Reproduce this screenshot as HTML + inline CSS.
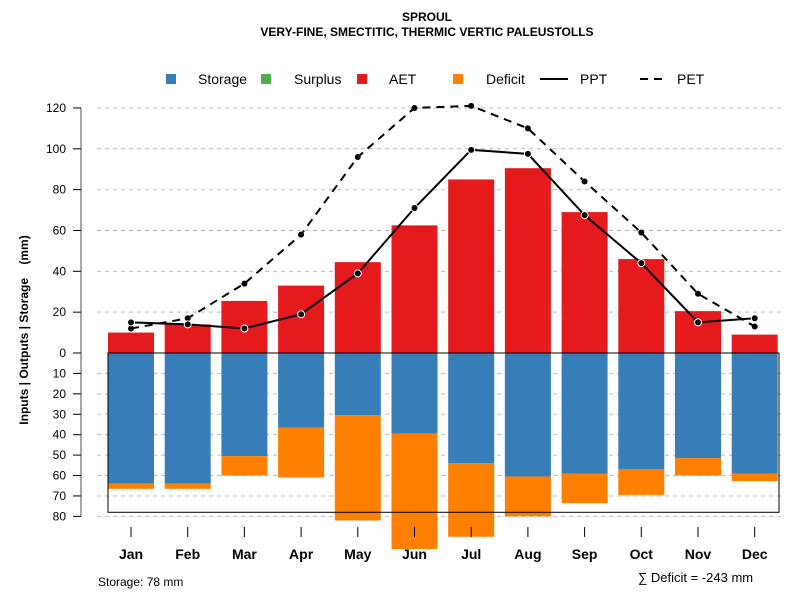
<!DOCTYPE html>
<html><head><meta charset="utf-8"><style>
body{margin:0;background:#fff;font-family:"Liberation Sans",sans-serif}
svg text{font-family:"Liberation Sans",sans-serif}
</style></head><body>
<svg id="c" width="800" height="600" xmlns="http://www.w3.org/2000/svg">
<text x="427" y="21" text-anchor="middle" font-size="12" font-weight="bold">SPROUL</text>
<text x="427" y="36" text-anchor="middle" font-size="12" font-weight="bold">VERY-FINE, SMECTITIC, THERMIC VERTIC PALEUSTOLLS</text>
<g id="grid"></g><g id="bars"></g><g id="lines"></g><g id="axes"></g>
<g font-size="14">
<rect x="166" y="74" width="10" height="10" fill="#377eb8"/><text x="198" y="84">Storage</text>
<rect x="261" y="74" width="10" height="10" fill="#4daf4a"/><text x="294" y="84">Surplus</text>
<rect x="357" y="74" width="10" height="10" fill="#e41a1c"/><text x="389" y="84">AET</text>
<rect x="453" y="74" width="10" height="10" fill="#ff7f00"/><text x="486" y="84">Deficit</text>
<line x1="540" y1="79" x2="568" y2="79" stroke="#000" stroke-width="2"/><text x="580" y="84">PPT</text>
<line x1="640" y1="79" x2="668" y2="79" stroke="#000" stroke-width="2" stroke-dasharray="8,6"/><text x="677" y="84">PET</text>
</g>
<text transform="translate(28,330) rotate(-90)" text-anchor="middle" font-size="12" font-weight="bold" style="white-space:pre" xml:space="preserve">Inputs | Outputs | Storage    (mm)</text>
<text x="98" y="586" font-size="12">Storage: 78 mm</text>
<text x="638" y="582" font-size="13">∑ Deficit = -243 mm</text>
</svg>
<script>
const months=["Jan","Feb","Mar","Apr","May","Jun","Jul","Aug","Sep","Oct","Nov","Dec"];
const aet=[10,14,25.5,33,44.5,62.5,85,90.5,69,46,20.5,9];
const storage=[64,64,50.5,36.5,30.5,39.5,54,60.5,59,57,51.5,59];
const deficit=[2.5,2.5,9.5,24.5,51.5,56.5,36,19.5,14.5,12.5,8.5,3.7];
const ppt=[15,14,12,19,39,71,99.5,97.5,67.5,44,15,17];
const pet=[12,17,34,58,96,120,121,110,84,59,29,13];
const posTicks=[0,20,40,60,80,100,120];
const negTicks=[10,20,30,40,50,60,70,80];
const storageCap=78;
const NS="http://www.w3.org/2000/svg";
const y0=353,k=2.042;
const yPos=v=>y0-v*k, yNeg=v=>y0+v*k;
const xc=i=>131+i*56.7, bw=46;
function mk(t,a,p){const e=document.createElementNS(NS,t);for(const n in a)e.setAttribute(n,a[n]);document.getElementById(p).appendChild(e);return e;}
[...posTicks.filter(v=>v>0).map(yPos),...negTicks.map(yNeg)].forEach(y=>{
 const l=mk("line",{x1:97,x2:785,y1:y,y2:y,stroke:"#bbb","stroke-dasharray":"4,4"},"grid");
 
 
});
months.forEach((m,i)=>{
 const x=xc(i)-bw/2;
 let r=mk("rect",{x:x,y:yPos(aet[i]),width:bw,height:aet[i]*k,fill:"#e41a1c"},"bars");
 
 
 r=mk("rect",{x:x,y:y0,width:bw,height:storage[i]*k,fill:"#377eb8"},"bars");
 
 
 r=mk("rect",{x:x,y:yNeg(storage[i]),width:bw,height:deficit[i]*k,fill:"#ff7f00"},"bars");
 
 
});
const box=mk("rect",{x:108,y:y0,width:671,height:storageCap*k,fill:"none",stroke:"#000","stroke-width":1},"bars");


const pp=mk("polyline",{points:ppt.map((v,i)=>xc(i)+","+yPos(v)).join(" "),fill:"none",stroke:"#000","stroke-width":2},"lines");


const pe=mk("polyline",{points:pet.map((v,i)=>xc(i)+","+yPos(v)).join(" "),fill:"none",stroke:"#000","stroke-width":2,"stroke-dasharray":"8,6"},"lines");


pet.forEach((v,i)=>{const c=mk("circle",{cx:xc(i),cy:yPos(v),r:3,fill:"#000"},"lines");
 
 });
ppt.forEach((v,i)=>{const c=mk("circle",{cx:xc(i),cy:yPos(v),r:3.5,fill:"#000",stroke:"#fff","stroke-width":1},"lines");
 
 });
const ax=mk("line",{x1:81,x2:81,y1:yPos(120),y2:yNeg(80),stroke:"#888","stroke-width":1.5},"axes");


const tick=(y,lab)=>{mk("line",{x1:73,x2:81,y1:y,y2:y,stroke:"#000"},"axes");
 const t=mk("text",{x:66,y:y+4,"text-anchor":"end","font-size":12},"axes");t.textContent=lab;
 
 };
posTicks.forEach(v=>tick(yPos(v),v));
negTicks.forEach(v=>tick(yNeg(v),v));
months.forEach((m,i)=>{mk("line",{x1:xc(i),x2:xc(i),y1:527,y2:537,stroke:"#000"},"axes");
 const t=mk("text",{x:xc(i),y:559,"text-anchor":"middle","font-size":14,"font-weight":"bold"},"axes");t.textContent=m;
 
 });
</script>
</body></html>
